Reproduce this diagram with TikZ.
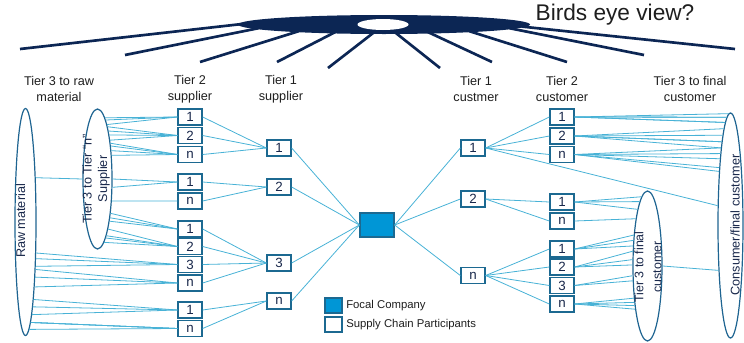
\documentclass[tikz,border=0pt]{standalone}
\usepackage{fontspec}
\setmainfont{Liberation Sans}
\usepackage{tikz}
\usetikzlibrary{shapes.geometric}
\usepackage{xcolor}

\definecolor{eyenavy}{RGB}{12,38,84}
\definecolor{linkblue}{RGB}{72,178,214}
\definecolor{boxedge}{RGB}{28,105,145}
\definecolor{ovaledge}{RGB}{30,100,145}
\definecolor{focalblue}{RGB}{0,150,214}
\definecolor{numcol}{RGB}{25,40,75}
\definecolor{headgray}{RGB}{30,30,30}

\begin{document}
\begin{tikzpicture}[x=0.75pt, y=-0.75pt,
    link/.style={draw=linkblue, line width=0.6pt},
    part/.style={draw=boxedge, line width=1pt, fill=white, minimum width=18pt, minimum height=12pt, inner sep=0pt, font=\fontsize{10}{12}\selectfont, text=numcol},
    oval/.style={ellipse, draw=ovaledge, line width=0.9pt, inner sep=0pt},
    head/.style={align=center, font=\fontsize{9.5}{12}\selectfont, text=headgray},
    ovaltext/.style={rotate=90, align=center, text=numcol},
    spoke/.style={draw=eyenavy, line width=2pt, shorten <=-3pt}]
    \useasboundingbox (0,0) rectangle (744,343);

    % Vogelperspektive
    \node[ellipse, fill=eyenavy, minimum width=219pt, minimum height=14.25pt, inner sep=0pt] (eye) at (384,24.5) {};
    \node[ellipse, fill=white, minimum width=38.25pt, minimum height=8.25pt, inner sep=0pt] (hole) at (383,24.5) {};
    \foreach \a/\x/\y [count=\i] in {180.6/20/49, 182.2/125/55, 185.1/200/62, 190.8/277/62, 218.3/328/68,
        324/440/68, 349.9/492/62, 355.1/567/62, 358/644/55, 359.4/735/49} {
        \coordinate (tip\i) at (\x,\y);
        \draw[spoke] (eye.\a) -- (tip\i);
    }
    \node[font=\fontsize{17}{20}\selectfont, text=headgray] (title) at (615,15) {Birds eye view?};

    % Spaltenköpfe
    \node[head] (hraw) at (59,89) {Tier 3 to raw\\material};
    \node[head] (hsup2) at (190,89) {Tier 2\\supplier};
    \node[head] (hsup1) at (281,89) {Tier 1\\supplier};
    \node[head] (hcus1) at (476,89) {Tier 1\\custmer};
    \node[head] (hcus2) at (562,89) {Tier 2\\customer};
    \node[head] (hcus3) at (690,89) {Tier 3 to final\\customer};

    % Ellipsen
    \node[oval, minimum width=15.75pt, minimum height=170.25pt] (rawmat) at (25.5,222) {};
    \node[oval, minimum width=21.75pt, minimum height=105pt] (tiern) at (97.5,179) {};
    \node[oval, minimum width=21.75pt, minimum height=112.5pt] (tierf) at (647.5,266) {};
    \node[oval, minimum width=18.75pt, minimum height=168.75pt] (consumer) at (730.5,225.5) {};
    \node[ovaltext, font=\fontsize{9.5}{12}\selectfont] (rawlbl) at (20.5,221) {Raw material};
    \node[ovaltext, font=\fontsize{9.5}{11.6}\selectfont] (tiernlbl) at (96,179) {Tier 3 to Tier “n”\\Supplier};
    \node[ovaltext, font=\fontsize{9.3}{13.5}\selectfont] (tierflbl) at (648,267) {Tier 3 to final\\customer};
    \node[ovaltext, font=\fontsize{9.5}{12}\selectfont] (conslbl) at (735,225) {Consumer/final customer};

    % Kästchen
    \foreach \n/\t/\y in {sa1/1/117, sa2/2/135.5, san/n/154.5, sb1/1/182, sbn/n/201, sc1/1/229,
        sc2/2/246.5, sc3/3/264.5, scn/n/283, sd1/1/310, sdn/n/328.5}
        \node[part] (\n) at (190,\y) {\t};
    \foreach \n/\t/\y in {s1/1/148, s2/2/187, s3/3/263, sn/n/301}
        \node[part] (\n) at (279,\y) {\t};
    \node[part, fill=focalblue, minimum width=25.5pt, minimum height=18pt] (focal) at (377,225) {};
    \foreach \n/\t/\y in {c1/1/148, c2/2/199, cn/n/275.5}
        \node[part] (\n) at (473,\y) {\t};
    \foreach \n/\t/\y in {ca1/1/117, ca2/2/136, can/n/154.5, cb1/1/202, cbn/n/221, cc1/1/249,
        cc2/2/267, cc3/3/285.5, ccn/n/304}
        \node[part] (\n) at (562,\y) {\t};

    % Legende
    \node[part, fill=focalblue, minimum width=12.75pt, minimum height=11.25pt] (legf) at (333.5,305.5) {};
    \node[part, minimum width=12.75pt, minimum height=11.25pt] (legs) at (333.5,324.5) {};
    \node[anchor=west, inner sep=0pt, font=\fontsize{8.5}{10}\selectfont, text=headgray] (legftxt) at (346,306) {Focal Company};
    \node[anchor=west, inner sep=0pt, font=\fontsize{8.5}{10}\selectfont, text=headgray] (legstxt) at (346,325) {Supply Chain Participants};

    % Verbindungen links
    \pgfmathsetmacro\ang{atan2(222-179,10.5*sqrt(1-((222-179)/113.5)^2))}
    \draw[link] (rawmat.\ang) -- (tiern.west);
    \foreach \b/\ys in {sa1/{118,121,124}, sa2/{127,131,136,140}, san/{143,147,151,156}, sb1/{179,187},
        sbn/{201}, sc1/{213,217,220}, sc2/{230,235,238,242}}
        \foreach \y in \ys {
            \pgfmathsetmacro\ang{atan2(179-\y,14.5*sqrt(1-((179-\y)/70)^2))}
            \draw[link] (tiern.\ang) -- (\b.west);
        }
    \foreach \b/\ys in {sc3/{252,258,265}, scn/{270,278,287}, sd1/{302,308,315}, sdn/{322,325,327,330}}
        \foreach \y in \ys {
            \pgfmathsetmacro\ang{atan2(222-\y,10.5*sqrt(1-((222-\y)/113.5)^2))}
            \draw[link] (rawmat.\ang) -- (\b.west);
        }
    \foreach \a/\b in {sa1/s1, sa2/s1, san/s1, sb1/s2, sbn/s2, sc1/s3, sc2/s3, sc3/s3, scn/s3, sd1/sn, sdn/sn}
        \draw[link] (\a.east) -- (\b.west);
    \foreach \a in {s1,s2,s3,sn}
        \draw[link] (\a.east) -- (focal.west);

    % Verbindungen rechts
    \foreach \b in {c1,c2,cn}
        \draw[link] (focal.east) -- (\b.west);
    \foreach \a/\b in {c1/ca1, c1/ca2, c1/can, c2/cb1, c2/cbn, cn/cc1, cn/cc2, cn/cc3, cn/ccn}
        \draw[link] (\a.east) -- (\b.west);
    \pgfmathsetmacro\ang{atan2(225.5-207,-12.5*sqrt(1-((225.5-207)/112.5)^2))}
    \draw[link] (c1.east) -- (consumer.\ang);
    \pgfmathsetmacro\ang{atan2(225.5-268,-12.5*sqrt(1-((225.5-268)/112.5)^2))}
    \draw[link] (tierf.east) -- (consumer.\ang);
    \foreach \b/\ys in {ca1/{116,119,123,127,130}, ca2/{135,140,145,148,152}, can/{155,160,165,170,175}}
        \foreach \y in \ys {
            \pgfmathsetmacro\ang{atan2(225.5-\y,-12.5*sqrt(1-((225.5-\y)/112.5)^2))}
            \draw[link] (\b.east) -- (consumer.\ang);
        }
    \foreach \b/\ys in {cb1/{198,205,213}, cbn/{221}, cc1/{237,242,247}, cc2/{252,260,265},
        cc3/{275,280}, ccn/{297,300,303,307}}
        \foreach \y in \ys {
            \pgfmathsetmacro\ang{atan2(266-\y,-14.5*sqrt(1-((266-\y)/75)^2))}
            \draw[link] (\b.east) -- (tierf.\ang);
        }
\end{tikzpicture}
\end{document}
